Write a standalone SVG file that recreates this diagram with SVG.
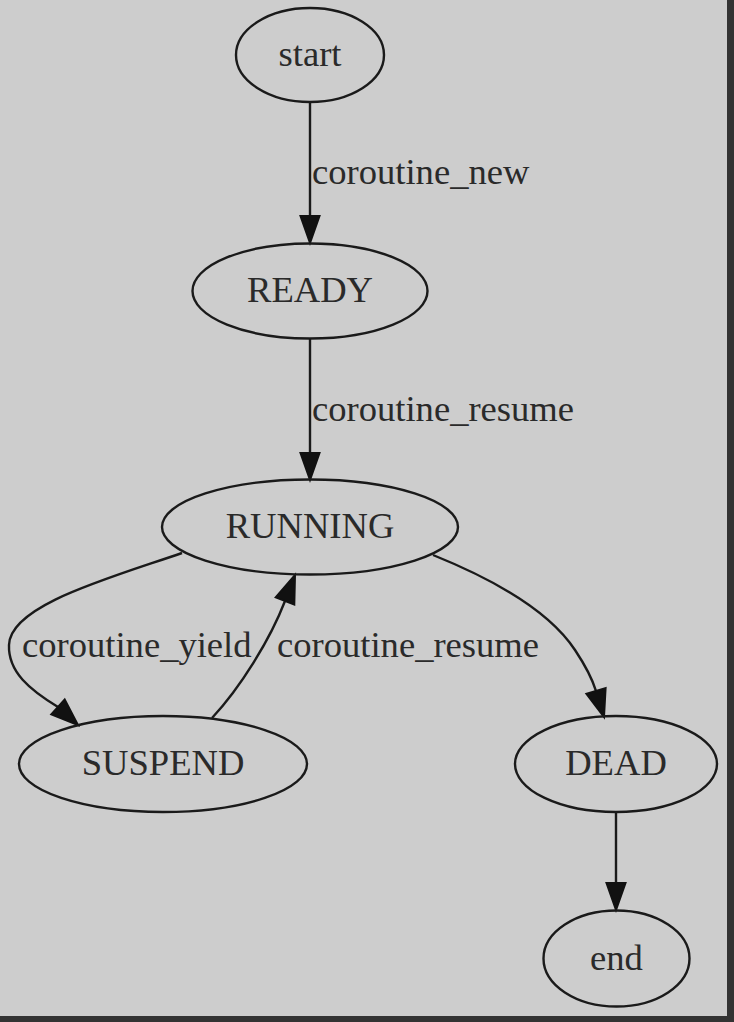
<svg xmlns="http://www.w3.org/2000/svg" width="734" height="1022" viewBox="0 0 734 1022">
<style>
.n ellipse{fill:none;stroke:#1a1a1a;stroke-width:2.4}
text{font-family:"Liberation Serif","Times New Roman",serif;font-size:36.6px;fill:#2a2a2a}
.n text{text-anchor:middle}
.e path{fill:none;stroke:#1a1a1a;stroke-width:2.4}
.e polygon{fill:#111;stroke:#111;stroke-width:2}
</style>
<rect x="0" y="0" width="734" height="1022" fill="#333333"/>
<rect x="0" y="0" width="727" height="1016" fill="#cdcdcd"/>
<g id="edges" class="e">
<g id="e_start_ready"><path d="M310,102 L310,216"/><polygon points="310,243 300.5,216 319.5,216"/><text x="312" y="184">coroutine_new</text></g>
<g id="e_ready_running"><path d="M310,339 L310,453"/><polygon points="310,480 300.5,453 319.5,453"/><text x="312" y="421">coroutine_resume</text></g>
<g id="e_running_suspend"><path d="M182,553 C110,578 10,605 9,645 C8,672 30,690 58,707"/><polygon points="78,725 51.3,714.4 64.7,699.6"/><text x="22" y="657">coroutine_yield</text></g>
<g id="e_suspend_running"><path d="M212,718 C240,688 270,640 285,601"/><polygon points="295,575 294.3,604.6 275.7,597.4"/><text x="277" y="657">coroutine_resume</text></g>
<g id="e_running_dead"><path d="M433,555 C495,580 550,612 575,650 C585,665 592,678 596,691"/><polygon points="604,717 605.6,688.1 586.4,693.9"/></g>
<g id="e_dead_end"><path d="M616,811 L616,883"/><polygon points="616,910 606.5,883 625.5,883"/></g>
</g>
<g id="start" class="n"><ellipse cx="310" cy="55" rx="74" ry="47"/><text x="310" y="66">start</text></g>
<g id="READY" class="n"><ellipse cx="310" cy="291" rx="117.5" ry="47.5"/><text x="310" y="302">READY</text></g>
<g id="RUNNING" class="n"><ellipse cx="310" cy="527" rx="148" ry="47.5"/><text x="310" y="538">RUNNING</text></g>
<g id="SUSPEND" class="n"><ellipse cx="163" cy="764" rx="144" ry="48"/><text x="163" y="775">SUSPEND</text></g>
<g id="DEAD" class="n"><ellipse cx="616" cy="764" rx="101" ry="48"/><text x="616" y="775">DEAD</text></g>
<g id="end" class="n"><ellipse cx="616.5" cy="958.5" rx="73" ry="48"/><text x="616.5" y="970">end</text></g>
</svg>
